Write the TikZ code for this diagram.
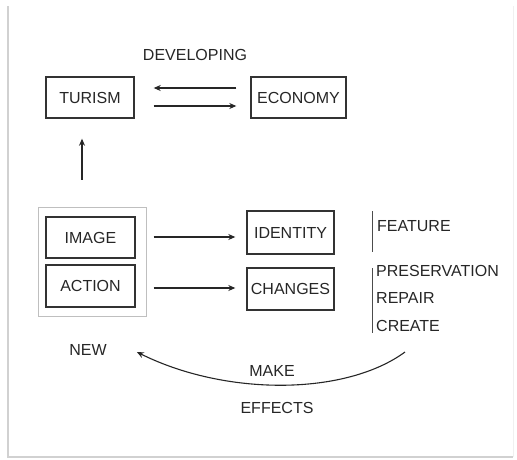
\documentclass[tikz,border=0pt]{standalone}
\usepackage{fontspec}
\setmainfont{Liberation Sans}
\usetikzlibrary{arrows.meta}
\begin{document}
\begin{tikzpicture}[x=1pt,y=-1pt,
  every node/.style={font=\fontsize{16}{19}\selectfont, text=black!85, inner sep=0pt},
  box/.style={draw=black!80, line width=1.4pt, minimum height=41pt},
  arr/.style={-{Stealth[length=7pt,width=6pt]}, draw=black!85, line width=1.1pt},
  bar/.style={draw=black!70, line width=1pt},
  lbl/.style={anchor=west}]
\useasboundingbox (0,0) rectangle (517,459);
\draw[black!18, line width=1.5pt] (8,6) -- (8,457) -- (513,457);
\draw[black!6, line width=1pt] (513,6) -- (513,457);
% top row
\node[box, minimum width=88pt] (turism) at (90,97.5) {TURISM};
\node[box, minimum width=95pt] (economy) at (298.5,97.5) {ECONOMY};
\node (dev) at (195,55) {DEVELOPING};
\draw[arr, shorten <=14pt, shorten >=19pt] ([yshift=9.5pt]economy.west) -- ([yshift=9.5pt]economy.west -| turism.east);
\draw[arr, shorten <=19pt, shorten >=14pt] ([yshift=-8.5pt]turism.east) -- ([yshift=-8.5pt]turism.east -| economy.west);
% group
\node[draw=black!25, line width=1pt, minimum width=108pt, minimum height=109pt] (grp) at (92,261.5) {};
\node[box, minimum width=89pt] (image) at (90.5,237.5) {IMAGE};
\node[box, minimum width=89pt, minimum height=42pt] (action) at (90.5,286) {ACTION};
\coordinate (upx) at (82,0);
\draw[arr, shorten <=27pt, shorten >=20pt] (grp.north -| upx) -- (turism.south -| upx);
% middle
\node[box, minimum width=87pt, minimum height=43pt] (identity) at (290.5,232.5) {IDENTITY};
\node[box, minimum width=87pt, minimum height=42pt] (changes) at (290.5,289) {CHANGES};
\draw[arr, shorten <=18pt, shorten >=11pt] ([yshift=0.5pt]image.east) -- ([yshift=0.5pt]image.east -| identity.west);
\draw[arr, shorten <=18pt, shorten >=11pt] ([yshift=-2pt]action.east) -- ([yshift=-2pt]action.east -| changes.west);
% right labels
\coordinate (b1t) at (372,211); \coordinate (b1b) at (372,252);
\coordinate (b2t) at (372,268); \coordinate (b2b) at (372,333);
\draw[bar] (b1t) -- (b1b);
\draw[bar] (b2t) -- (b2b);
\node[lbl] (feature) at (377,226) {FEATURE};
\node[lbl] (pres) at (376,271) {PRESERVATION};
\node[lbl] (repair) at (376,298) {REPAIR};
\node[lbl] (create) at (376,326) {CREATE};
% bottom
\node (new) at (88,350) {NEW};
\node (make) at (272,371) {MAKE};
\node (effects) at (277,408) {EFFECTS};
\coordinate (cstart) at (405,352);
\draw[arr] (cstart) .. controls (345,396) and (225,396) .. ([xshift=30pt,yshift=-2pt]new.east);
\end{tikzpicture}
\end{document}
